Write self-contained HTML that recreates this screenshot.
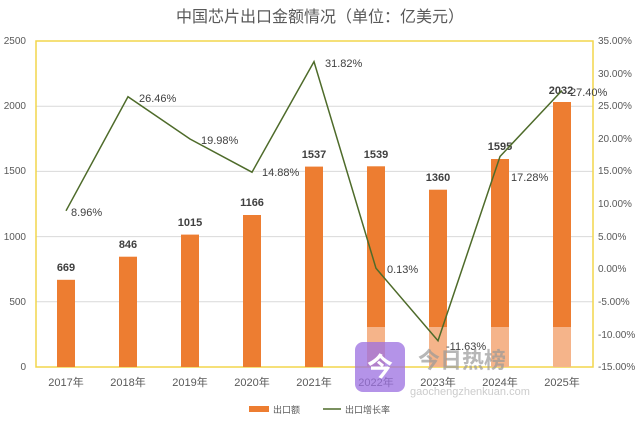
<!DOCTYPE html>
<html><head><meta charset="utf-8"><style>
body{margin:0;background:#fff}
svg{display:block;font-family:"Liberation Sans","Noto Sans CJK SC",sans-serif}
</style></head><body>
<svg width="640" height="427" viewBox="0 0 640 427">
<rect width="640" height="427" fill="#fff"/>
<text x="320" y="22" text-anchor="middle" font-size="16" fill="#595959">中国芯片出口金额情况（单位：亿美元）</text>
<g stroke="#d9d9d9" stroke-width="1">
<line x1="36" y1="106.2" x2="593" y2="106.2"/>
<line x1="36" y1="171.4" x2="593" y2="171.4"/>
<line x1="36" y1="236.6" x2="593" y2="236.6"/>
<line x1="36" y1="301.8" x2="593" y2="301.8"/>
</g>
<rect x="36" y="41" width="557" height="326" fill="none" stroke="#f2d64b" stroke-width="1.5"/>
<g font-size="10" fill="#595959" text-anchor="end">
<text x="26" y="44">2500</text><text x="26" y="109">2000</text><text x="26" y="174">1500</text><text x="26" y="240">1000</text><text x="26" y="305">500</text><text x="26" y="370">0</text>
</g>
<g font-size="10" fill="#595959" text-anchor="start">
<text x="598" y="44">35.00%</text><text x="598" y="77">30.00%</text><text x="598" y="109">25.00%</text><text x="598" y="142">20.00%</text><text x="598" y="174">15.00%</text><text x="598" y="207">10.00%</text><text x="598" y="240">5.00%</text><text x="598" y="272">0.00%</text><text x="598" y="305">-5.00%</text><text x="598" y="338">-10.00%</text><text x="598" y="370">-15.00%</text>
</g>
<g fill="#ed7d31">
<rect x="57" y="279.8" width="18" height="87.2"/>
<rect x="119" y="256.7" width="18" height="110.3"/>
<rect x="181" y="234.6" width="18" height="132.4"/>
<rect x="243" y="215" width="18" height="152"/>
<rect x="305" y="166.6" width="18" height="200.4"/>
<rect x="367" y="166.3" width="18" height="200.7"/>
<rect x="429" y="189.7" width="18" height="177.3"/>
<rect x="491" y="159" width="18" height="208"/>
<rect x="553" y="102" width="18" height="265"/>
</g>
<g fill="#f5b48a">
<rect x="367" y="327" width="18" height="40"/><rect x="429" y="327" width="18" height="40"/><rect x="491" y="327" width="18" height="40"/><rect x="553" y="327" width="18" height="40"/>
</g>
<g font-size="11" font-weight="bold" fill="#404040" text-anchor="middle">
<text x="66" y="271">669</text><text x="128" y="248">846</text><text x="190" y="226">1015</text><text x="252" y="206">1166</text><text x="314" y="158">1537</text><text x="376" y="158">1539</text><text x="438" y="181">1360</text><text x="500" y="150">1595</text><text x="561" y="94">2032</text>
</g>
<polyline fill="none" stroke="#4e6b2a" stroke-width="1.5" points="66,210.8 128,96.7 190,139 252,172.2 314,61.6 376,268.3 438,340.7 500,156.5 562,90.5"/>
<g font-size="11" fill="#404040">
<text x="71" y="216">8.96%</text><text x="139" y="102">26.46%</text><text x="201" y="144">19.98%</text><text x="262" y="176">14.88%</text><text x="325" y="67">31.82%</text><text x="387" y="273">0.13%</text><text x="446" y="350">-11.63%</text><text x="511" y="181">17.28%</text><text x="570" y="96">27.40%</text>
</g>
<g font-size="11" fill="#595959" text-anchor="middle">
<text x="66" y="386">2017年</text><text x="128" y="386">2018年</text><text x="190" y="386">2019年</text><text x="252" y="386">2020年</text><text x="314" y="386">2021年</text><text x="376" y="386">2022年</text><text x="438" y="386">2023年</text><text x="500" y="386">2024年</text><text x="562" y="386">2025年</text>
</g>
<rect x="355" y="342" width="50" height="50" rx="8" fill="#9b6fe0" opacity="0.75"/>
<text x="380" y="376" text-anchor="middle" font-size="26" fill="#fff" font-weight="bold">今</text>
<text x="418" y="368" font-size="22" font-weight="bold" fill="#999" opacity="0.7">今日热榜</text>
<text x="410" y="395" font-size="11" fill="#ccc">gaochengzhenkuan.com</text>
<rect x="249" y="406" width="20" height="6" fill="#ed7d31"/>
<text x="273" y="413" font-size="9" fill="#595959">出口额</text>
<line x1="323" y1="409" x2="341" y2="409" stroke="#4e6b2a" stroke-width="1.5"/>
<text x="345" y="413" font-size="9" fill="#595959">出口增长率</text>
</svg>
</body></html>
